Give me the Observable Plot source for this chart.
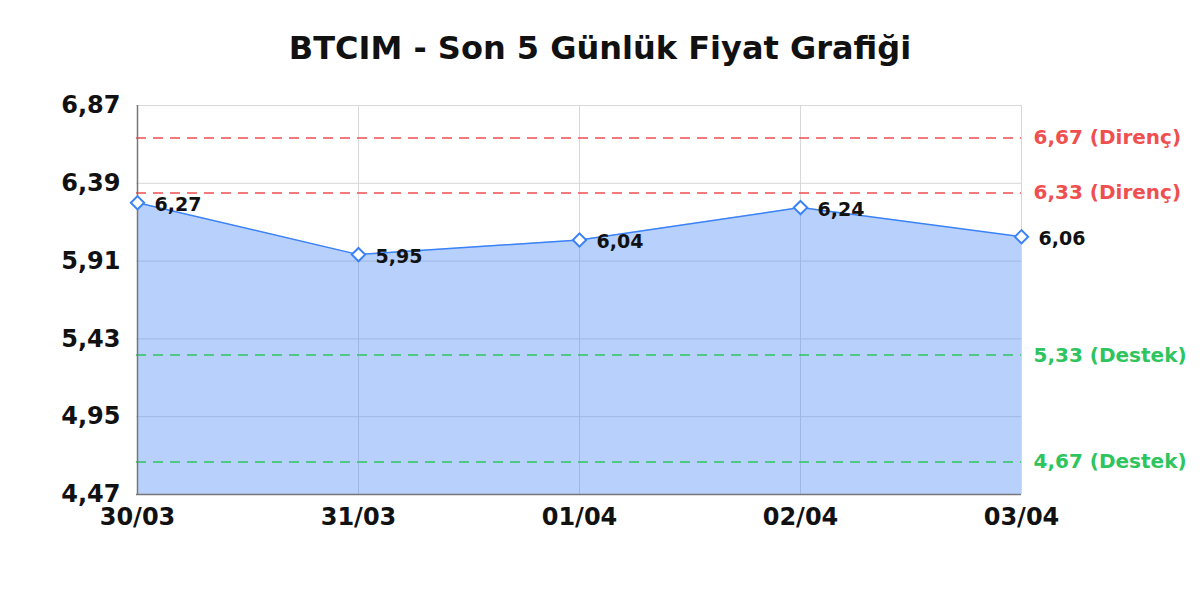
<!DOCTYPE html>
<html>
<head>
<meta charset="utf-8">
<script src="https://cdn.jsdelivr.net/npm/d3@7"></script>
<script src="https://cdn.jsdelivr.net/npm/@observablehq/plot@0.6"></script>
<style>
  body { margin: 0; background: #fff; font-family: "DejaVu Sans", sans-serif; }
  #title { height: 90px; width: 1200px; text-align: center; font-weight: bold; font-size: 32px; line-height: 96px; color: #111; }
</style>
</head>
<body>
<div id="title">BTCIM - Son 5 Günlük Fiyat Grafiği</div>
<div id="chart"></div>
<script>
const dates = ["30/03", "31/03", "01/04", "02/04", "03/04"];
const prices = [6.27, 5.95, 6.04, 6.24, 6.06];
const yTicks = [4.47, 4.95, 5.43, 5.91, 6.39, 6.87];
const resistance = [6.67, 6.33];
const support = [5.33, 4.67];

const fmt = v => v.toFixed(2).replace(".", ",");
const data = dates.map((d, i) => ({date: d, price: prices[i]}));
const last = dates[dates.length - 1];
const levels = [
  ...resistance.map(v => ({v, label: fmt(v) + " (Direnç)", color: "#ef4f4f"})),
  ...support.map(v => ({v, label: fmt(v) + " (Destek)", color: "#2ec45e"}))
];

const plot = Plot.plot({
  width: 1200,
  height: 510,
  marginLeft: 136,
  marginRight: 179,
  marginTop: 15,
  marginBottom: 106,
  style: {fontFamily: "DejaVu Sans", fontWeight: "bold", fontSize: "24px", color: "#111"},
  x: {type: "point", domain: dates, padding: 0, label: null},
  y: {domain: [4.47, 6.87], label: null},
  marks: [
    Plot.gridX(dates, {stroke: "#d8d8d8", strokeOpacity: 1}),
    Plot.gridY(yTicks, {stroke: "#d8d8d8", strokeOpacity: 1}),
    Plot.areaY(data, {x: "date", y1: 4.47, y2: "price", fill: "#3b82f6", fillOpacity: 0.37}),
    Plot.lineY(data, {x: "date", y: "price", stroke: "#3b82f6", strokeWidth: 1.5}),
    Plot.ruleY(levels, {y: "v", stroke: "color", strokeDasharray: "10,7", strokeWidth: 1.5}),
    Plot.text(levels, {x: () => last, y: "v", text: "label", fill: "color", textAnchor: "start", dx: 12, fontSize: 20, fontWeight: "bold"}),
    Plot.ruleX([dates[0]], {stroke: "#777", strokeWidth: 1.5}),
    Plot.ruleY([4.47], {stroke: "#777", strokeWidth: 1.5}),
    Plot.dot(data, {x: "date", y: "price", symbol: "diamond2", r: 6, stroke: "#3b82f6", fill: "white", strokeWidth: 2}),
    Plot.text(data, {x: "date", y: "price", text: d => fmt(d.price), textAnchor: "start", dx: 17, dy: 2, fontSize: 19, fontWeight: "bold", fill: "#111"}),
    Plot.axisY(yTicks, {tickSize: 0, tickPadding: 16, tickFormat: fmt, fontSize: 24, fontWeight: "bold"}),
    Plot.axisX(dates, {tickSize: 0, tickPadding: 13, fontSize: 24, fontWeight: "bold"})
  ]
});
document.getElementById("chart").appendChild(plot);
</script>
</body>
</html>
